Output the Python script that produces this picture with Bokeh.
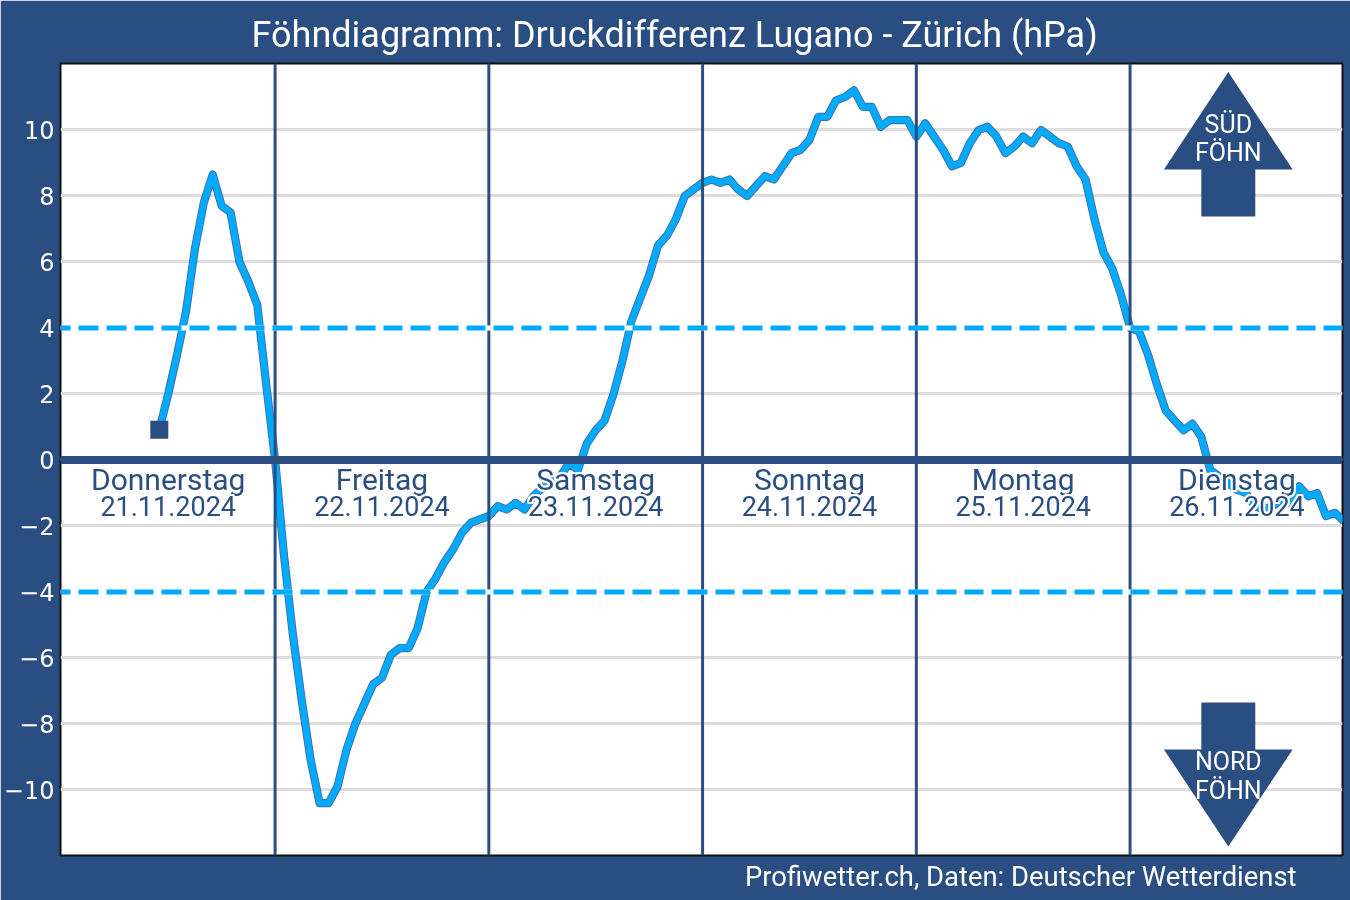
from bokeh.plotting import figure
from bokeh.models import Range1d, FixedTicker, Title, Span
from bokeh.core.properties import value
from bokeh.embed import file_html
from bokeh.resources import INLINE

NAVY = "#2A4E81"
CYAN = "#00AAFF"
FONT = "Roboto"

start_hour = 11
pressure_diff = [
    0.92, 2.0, 3.2, 4.5, 6.4, 7.8, 8.65, 7.7, 7.5, 6.0, 5.4, 4.7, 2.3,
    0.0, -2.9, -5.3, -7.3, -9.1, -10.4, -10.4, -9.9, -8.8, -8.0, -7.4, -6.8, -6.6,
    -5.9, -5.7, -5.7, -5.1, -4.0, -3.6, -3.1, -2.7, -2.2, -1.9, -1.8, -1.7,
    -1.4, -1.5, -1.3, -1.5, -1.1, -0.85, -0.6, -0.5, -0.1, -0.3, 0.5, 0.9, 1.2, 2.0, 3.0,
    4.2, 4.9, 5.6, 6.5, 6.8, 7.3, 8.0, 8.2, 8.4, 8.5, 8.4, 8.5, 8.2, 8.0, 8.3, 8.6, 8.5,
    8.9, 9.3, 9.4, 9.7, 10.4, 10.4, 10.9, 11.0, 11.2, 10.7, 10.7, 10.1, 10.3, 10.3, 10.3,
    9.8, 10.2, 9.8, 9.4, 8.9, 9.0, 9.6, 10.0, 10.1, 9.8, 9.3, 9.5, 9.8, 9.6, 10.0, 9.8,
    9.6, 9.5, 8.9, 8.5, 7.3, 6.3, 5.8, 5.0, 4.0, 3.9, 3.2, 2.3, 1.5, 1.2, 0.9, 1.1, 0.7,
    -0.3, -0.5, -0.7, -0.9, -1.0, -1.4, -1.5, -1.4, -1.2, -1.3, -0.8, -1.1, -1.0, -1.7, -1.6, -1.85,
]
hours = list(range(start_hour, start_hour + len(pressure_diff)))

y_ticks = [-10, -8, -6, -4, -2, 0, 2, 4, 6, 8, 10]
y_labels = {t: str(t).replace("-", "\u2212") for t in y_ticks}
day_boundaries = [24, 48, 72, 96, 120]
thresholds = [4, -4]
day_centres = [12, 36, 60, 84, 108, 132]
day_names = ["Donnerstag", "Freitag", "Samstag", "Sonntag", "Montag", "Dienstag"]
day_dates = ["21.11.2024", "22.11.2024", "23.11.2024", "24.11.2024", "25.11.2024", "26.11.2024"]
title_text = "Föhndiagramm: Druckdifferenz Lugano - Zürich (hPa)"
source_text = "Profiwetter.ch, Daten: Deutscher Wetterdienst"

p = figure(width=1350, height=900, output_backend="svg", toolbar_location=None,
           x_range=Range1d(-0.095, 143.852), y_range=Range1d(-11.985, 12.015),
           min_border_left=60, min_border_right=8, min_border_top=63, min_border_bottom=45,
           background_fill_color="white", border_fill_color=NAVY,
           outline_line_color="#111111", outline_line_width=2,
           styles={"position": "fixed", "left": "0", "top": "0"})

p.xaxis.visible = False
p.xgrid.visible = False
p.ygrid.ticker = FixedTicker(ticks=y_ticks)
p.ygrid.grid_line_color = "#DDDDDD"
p.ygrid.grid_line_width = 3
ax = p.yaxis[0]
ax.ticker = FixedTicker(ticks=y_ticks)
ax.major_label_overrides = y_labels
ax.major_tick_line_color = None
ax.minor_tick_line_color = None
ax.major_tick_in = 0
ax.major_tick_out = 0
ax.minor_tick_in = 0
ax.minor_tick_out = 0
ax.axis_line_color = None
ax.major_label_text_color = "white"
ax.major_label_text_font = "DejaVu Sans"
ax.major_label_text_font_size = "24px"
ax.major_label_standoff = 6

for d in day_boundaries:
    p.add_layout(Span(location=d, dimension="height", line_color=NAVY, line_width=3))
p.add_layout(Span(location=0, dimension="width", line_color=NAVY, line_width=8))
for t in thresholds:
    p.add_layout(Span(location=t, dimension="width", line_color="white", line_width=5))
    p.add_layout(Span(location=t, dimension="width", line_color=CYAN, line_width=5,
                      line_dash="19 8 20 8 20 8", line_dash_offset=9))

p.line(hours, pressure_diff, line_color=NAVY, line_width=8.2, line_join="round", line_alpha=0.85)
p.line(hours, pressure_diff, line_color=CYAN, line_width=6.5, line_join="round")
p.scatter([hours[0]], [pressure_diff[0]], marker="square", size=18, fill_color=NAVY, line_color=None)

# day captions: a white halo, then the text itself
for ys, labels, size in ([[-0.6] * 6, day_names, "30px"], [[-1.4] * 6, day_dates, "27px"]):
    for dx, dy in [(-1, -1), (1, -1), (-1, 1), (1, 1)]:
        p.text(day_centres, ys, text=labels, text_align="center", text_baseline="middle",
               text_font=value(FONT), text_font_size=size, text_color="white",
               text_outline_color="white", x_offset=dx, y_offset=dy)
    p.text(day_centres, ys, text=labels, text_align="center", text_baseline="middle",
           text_font=value(FONT), text_font_size=size, text_color=NAVY)

# wind direction arrows
arrow_x = 131.03
arrow_w = 7.23
shaft_w = 3.03
up_y = [11.76, 8.80, 8.80, 7.38, 7.38, 8.80, 8.80]
dn_y = [-11.71, -8.77, -8.77, -7.35, -7.35, -8.77, -8.77]
xs = [arrow_x, arrow_x - arrow_w, arrow_x - shaft_w, arrow_x - shaft_w,
      arrow_x + shaft_w, arrow_x + shaft_w, arrow_x + arrow_w]
p.patch(xs, up_y, fill_color=NAVY, line_color=None)
p.patch(xs, dn_y, fill_color=NAVY, line_color=None)
p.text([arrow_x] * 4, [10.18, 9.32, -9.13, -10.03], text=["SÜD", "FÖHN", "NORD", "FÖHN"],
       text_align="center", text_baseline="middle", text_font=value(FONT),
       text_font_size="25px", text_color="white")

p.add_layout(Title(text=title_text, align="left", offset=191, standoff=16,
                   text_font=FONT, text_font_size="36px", text_font_style="normal",
                   text_color="white"), "above")
p.add_layout(Title(text=source_text, align="right", offset=46, standoff=6,
                   text_font=FONT, text_font_size="27.4px", text_font_style="normal",
                   text_color="white"), "below")

open("out.html", "w").write(file_html(p, INLINE))
